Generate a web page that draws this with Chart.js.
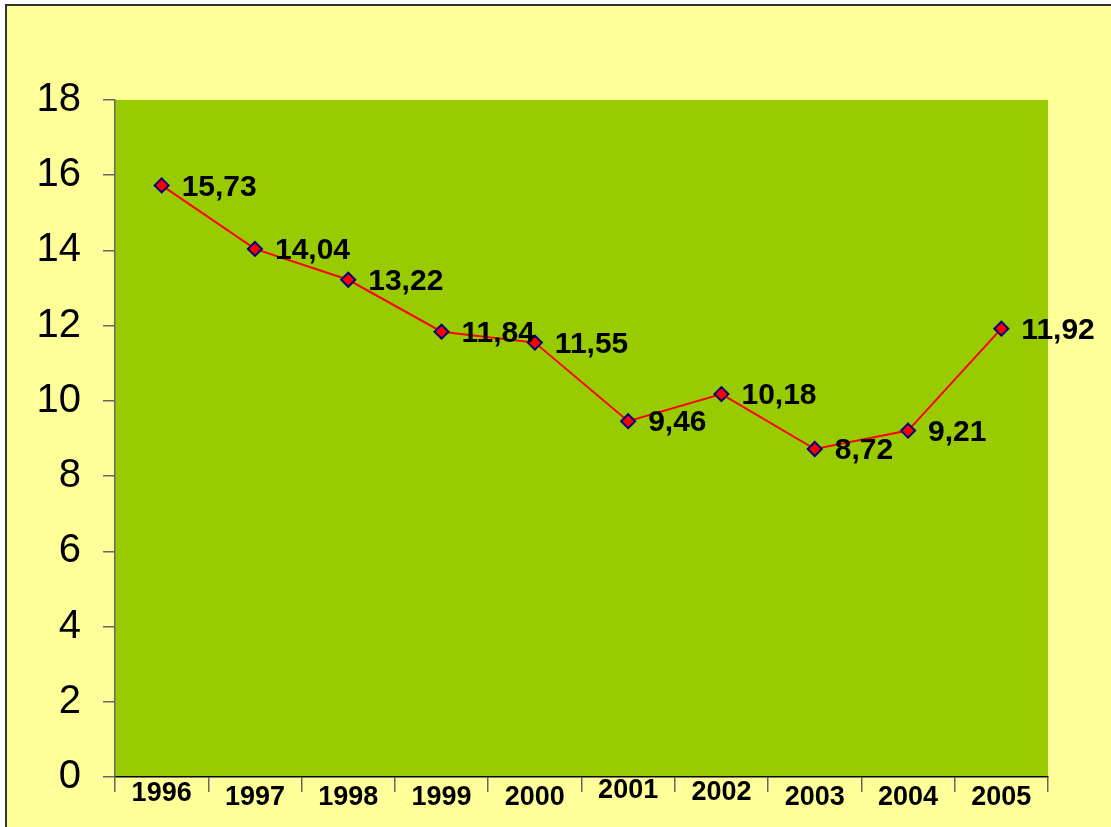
<!DOCTYPE html>
<html>
<head>
<meta charset="utf-8">
<script src="https://cdn.jsdelivr.net/npm/chart.js@4/dist/chart.umd.min.js"></script>
<style>
  html, body { margin: 0; padding: 0; background: #ffffff; overflow: hidden; }
  #frame { position: absolute; left: 5px; top: 4px; width: 1200px; height: 900px;
           border: 2px solid #333333; background: #FFFF99; }
  #c { position: absolute; left: 0; top: 0; }
</style>
</head>
<body>
<div id="frame"></div>
<canvas id="c" width="1111" height="827"></canvas>
<script>
const years = ['1996','1997','1998','1999','2000','2001','2002','2003','2004','2005'];
const values = [15.73, 14.04, 13.22, 11.84, 11.55, 9.46, 10.18, 8.72, 9.21, 11.92];
const yTicks = [0, 2, 4, 6, 8, 10, 12, 14, 16, 18];
// small per-label vertical stagger of the category labels (line-height multipliers)
const xLabelStagger = [0.73, 1, 1, 1, 1, 0.46, 0.62, 1, 1, 1];

const plotBg = {
  id: 'plotBg',
  beforeDraw(chart) {
    const { ctx, chartArea: a } = chart;
    ctx.save();
    ctx.fillStyle = '#99CC00';
    ctx.fillRect(a.left, a.top, a.right - a.left, a.bottom - a.top);
    ctx.restore();
  }
};

const valueLabels = {
  id: 'valueLabels',
  afterDatasetsDraw(chart) {
    const { ctx } = chart;
    const meta = chart.getDatasetMeta(0);
    ctx.save();
    ctx.font = 'bold 30px "Liberation Sans", Arial, sans-serif';
    ctx.fillStyle = '#000000';
    ctx.textAlign = 'left';
    ctx.textBaseline = 'middle';
    meta.data.forEach((pt, i) => {
      const txt = values[i].toFixed(2).replace('.', ',');
      ctx.fillText(txt, pt.x + 20, pt.y + 2);
    });
    ctx.restore();
  }
};

new Chart(document.getElementById('c'), {
  type: 'line',
  data: {
    labels: years,
    datasets: [{
      data: values,
      borderColor: '#FF0000',
      borderWidth: 2,
      backgroundColor: '#FF0000',
      pointStyle: 'rectRot',
      pointRadius: 7,
      pointHoverRadius: 7,
      pointBackgroundColor: '#FF0000',
      pointBorderColor: '#000080',
      pointBorderWidth: 2,
      tension: 0
    }]
  },
  options: {
    responsive: false,
    animation: false,
    events: [],
    layout: { padding: { left: 0, top: 100, right: 63, bottom: 0 } },
    plugins: { legend: { display: false }, tooltip: { enabled: false } },
    scales: {
      x: {
        type: 'category',
        offset: true,
        grid: { offset: true, drawOnChartArea: false, drawTicks: true, tickLength: 15, color: '#666666', lineWidth: 1.5 },
        border: { color: '#000000', width: 1.5 },
        ticks: {
          color: '#000000',
          padding: -8,
          maxRotation: 0,
          autoSkip: false,
          font: (ctx) => ({ family: '"Liberation Sans", Arial, sans-serif', size: 27, weight: 'bold',
                            lineHeight: xLabelStagger[ctx.index] !== undefined ? xLabelStagger[ctx.index] : 1 })
        },
        afterFit(scale) { scale.height = 50; }
      },
      y: {
        min: 0,
        max: 18,
        afterBuildTicks(scale) { scale.ticks = yTicks.map(v => ({ value: v })); },
        grid: { drawOnChartArea: false, drawTicks: true, tickLength: 12, color: '#666666', lineWidth: 1.5 },
        border: { color: '#666666', width: 1.5 },
        ticks: {
          color: '#000000',
          padding: 22,
          font: { family: '"Liberation Sans", Arial, sans-serif', size: 40 }
        },
        afterFit(scale) { scale.width = 115; }
      }
    }
  },
  plugins: [plotBg, valueLabels]
});
</script>
</body>
</html>
